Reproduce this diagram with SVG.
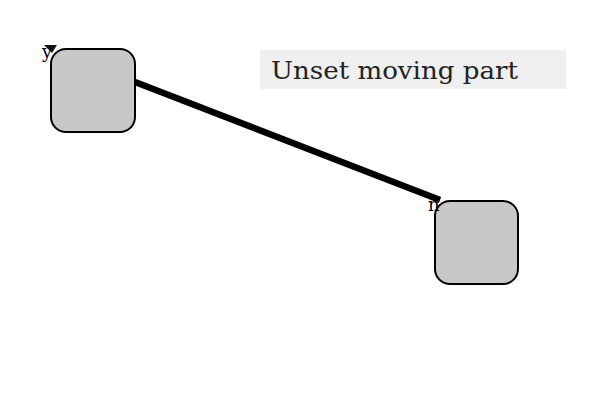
<svg xmlns="http://www.w3.org/2000/svg" width="600" height="400" viewBox="0 0 600 400">
<style>
.node{fill:#c8c8c8;stroke:#000;stroke-width:2}
.lbl{font-family:"DejaVu Serif","Liberation Serif",serif;font-size:18px;fill:#000}
.title{font-family:"DejaVu Serif","Liberation Serif",serif;font-size:25px;fill:#222}
</style>
<rect width="600" height="400" fill="#fff"/>
<g id="connectors">
<line x1="135" y1="82" x2="440" y2="200" stroke="#000" stroke-width="6.5"/>
</g>
<g id="node-a">
<rect class="node" x="51" y="49" width="84" height="83" rx="15"/>
<polygon points="44,45 57,45 52,53" fill="#111"/>
<text class="lbl" x="42" y="58">y</text>
</g>
<g id="node-b">
<rect class="node" x="435" y="201" width="83" height="83" rx="15"/>
<text class="lbl" x="428" y="211">n</text>
</g>
<g id="title">
<rect x="260" y="50" width="306" height="39" fill="#efefef"/>
<text class="title" x="271" y="79" textLength="247" lengthAdjust="spacingAndGlyphs">Unset moving part</text>
</g>
</svg>
